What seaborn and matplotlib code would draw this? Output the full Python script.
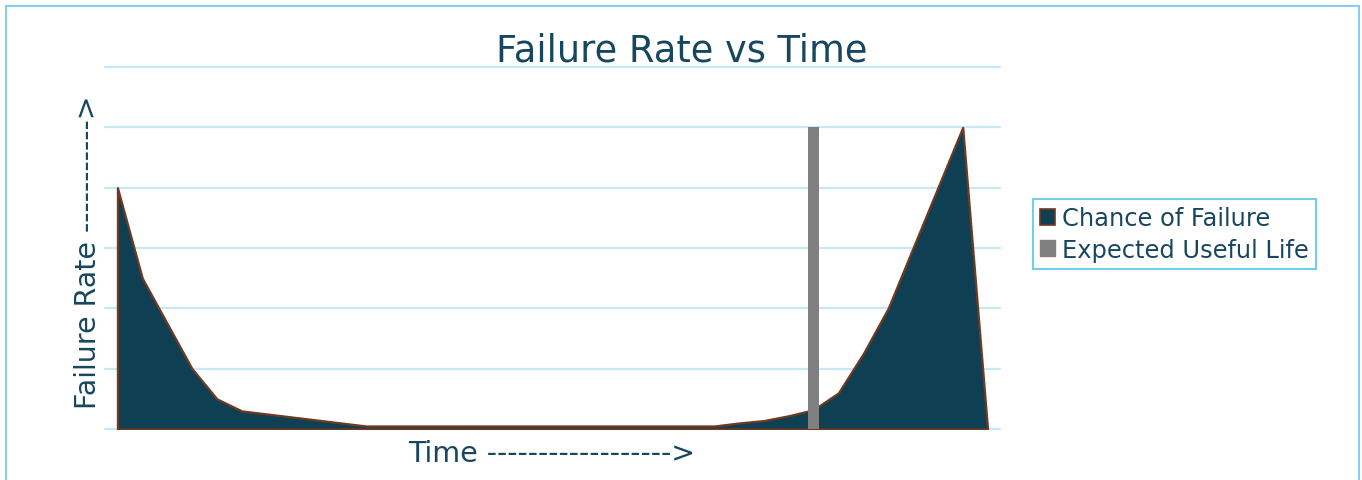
import matplotlib
matplotlib.use("Agg")
import matplotlib.pyplot as plt
import seaborn as sns
import pandas as pd
import numpy as np
from matplotlib.patches import Patch, Rectangle

# ---- data ----
time_points = list(range(1, 37))
chance_of_failure = [4.0, 2.5, 1.75, 1.0, 0.5, 0.3, 0.25, 0.2, 0.15, 0.1,
                     0.05, 0.05, 0.05, 0.05, 0.05, 0.05, 0.05, 0.05, 0.05, 0.05,
                     0.05, 0.05, 0.05, 0.05, 0.05, 0.1, 0.14, 0.22, 0.32, 0.6,
                     1.25, 2.0, 3.0, 4.0, 5.0, 0.0]
expected_useful_life = [0]*28 + [5.0] + [0]*7
title = "Failure Rate vs Time"
x_label = "Time ------------------>"
y_label = "Failure Rate ----------->"
series_names = ["Chance of Failure", "Expected Useful Life"]

# ---- style ----
sns.set_theme(style="white")
plt.rcParams['font.family'] = ['DejaVu Sans']
TEXT = "#17475E"
FILL = "#0E3F52"
EDGE = "#6E3A22"
GREY = "#808080"
GRID = "#C8E8F6"

W, H = 1362, 481
fig = plt.figure(figsize=(W/100, H/100), dpi=100)
ax = fig.add_axes([105/W, 1-430/H, (1000-105)/W, (430-68)/H])

df = pd.DataFrame({"cat": [str(t) for t in time_points],
                   "pos": np.arange(len(time_points)),
                   "failure": chance_of_failure,
                   "life": expected_useful_life})

# area
ax.fill_between(df["pos"], df["failure"], 0, facecolor=FILL, edgecolor=EDGE,
                linewidth=1.6, zorder=2)
# bar
sns.barplot(data=df, x="cat", y="life", color=GREY, saturation=1, width=0.4545,
            order=df["cat"].tolist(), ax=ax, zorder=3, linewidth=0)

ax.set_xlim(-0.5, len(time_points)-0.5)
ax.set_ylim(0, 6)
ax.set_yticks(range(0, 7))
ax.set_xticks([])
ax.set_yticklabels([])
ax.yaxis.grid(True, color=GRID, linewidth=1.6, zorder=0)
for gl in ax.get_ygridlines():
    gl.set_clip_on(False)
ax.set_axisbelow(True)
ax.tick_params(left=False, bottom=False)
for s in ax.spines.values():
    s.set_visible(False)
ax.set_xlabel("")
ax.set_ylabel("")

fig.text(682/W, 1-62/H, title, ha="center", va="baseline", fontsize=26.5, color=TEXT)
fig.text(552/W, 1-462/H, x_label, ha="center", va="baseline", fontsize=20.5, color=TEXT)
fig.text(88/W, 1-252/H, y_label, ha="center", va="center", fontsize=20.5, color=TEXT,
         rotation=90)

handles = [Patch(facecolor=FILL, edgecolor=EDGE, linewidth=1.2),
           Patch(facecolor=GREY, edgecolor=GREY)]
leg = fig.legend(handles, series_names, loc="center left",
                 bbox_to_anchor=(1033/W, 1-235/H), frameon=True, fancybox=False,
                 fontsize=17.4, handlelength=0.6, handleheight=0.6, handletextpad=0.3,
                 borderpad=0.3, labelspacing=0.3, borderaxespad=0)
leg.get_frame().set_edgecolor("#4FC3E8")
leg.get_frame().set_linewidth(1.5)
for t in leg.get_texts():
    t.set_color(TEXT)

fig.patches.append(Rectangle((6/W, -0.05), (1359-6)/W, 1.05-7/H,
                             transform=fig.transFigure, fill=False,
                             edgecolor="#86D0EE", linewidth=1.5))

fig.savefig("out.png", dpi=100, facecolor="white")
